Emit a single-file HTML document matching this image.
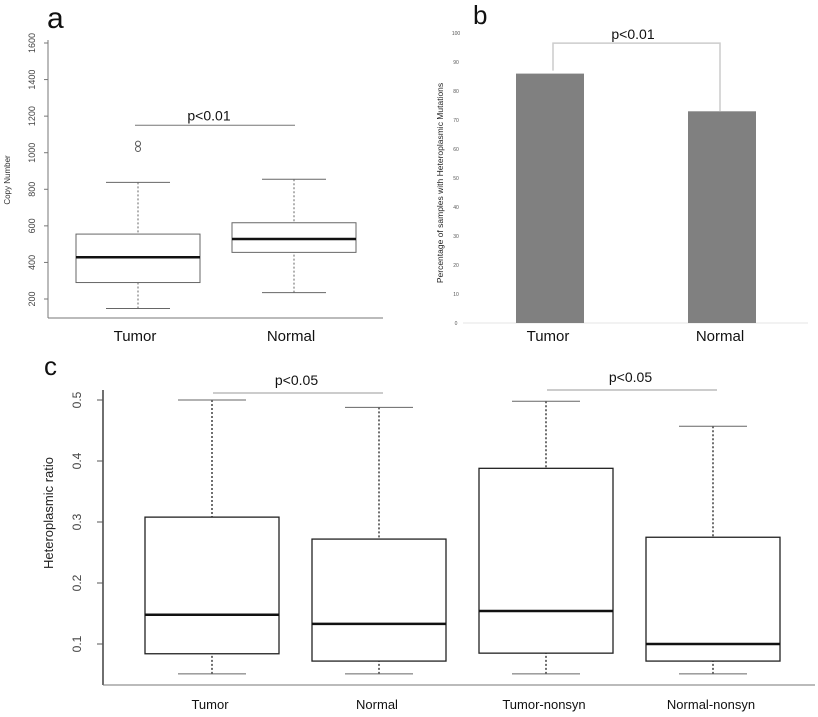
<!DOCTYPE html>
<html><head><meta charset="utf-8"><style>
body{margin:0;background:#fff}
svg{display:block;font-family:"Liberation Sans",Arial,sans-serif}
</style></head><body>
<svg width="818" height="717" viewBox="0 0 818 717" xmlns="http://www.w3.org/2000/svg">
<g id="pa"></g>
<g id="pb"></g>
<g id="pc"></g>
</svg>
<script>
// Panel a data
const aCats=["Tumor","Normal"];
const aMin=[148,235],aQ1=[290,455],aMed=[428,528],aQ3=[555,617],aMax=[838,855];
const aOutliers=[[1020,1050],[]];
const aTicks=[200,400,600,800,1000,1200,1400,1600];
// Panel b data
const bCats=["Tumor","Normal"];
const bVals=[86,73];
const bTicks=[0,10,20,30,40,50,60,70,80,90,100];
// Panel c data
const cCats=["Tumor","Normal","Tumor-nonsyn","Normal-nonsyn"];
const cMin=[0.051,0.051,0.051,0.051];
const cQ1=[0.084,0.072,0.085,0.072];
const cMed=[0.148,0.133,0.154,0.100];
const cQ3=[0.308,0.272,0.388,0.275];
const cMax=[0.500,0.488,0.498,0.457];
const cTicks=[0.1,0.2,0.3,0.4,0.5];

const NS="http://www.w3.org/2000/svg";
function mk(p,tag,at,txt){const e=document.createElementNS(NS,tag);for(const k in at)e.setAttribute(k,at[k]);if(txt!==undefined)e.textContent=txt;p.appendChild(e);return e;}

// ---- Panel a
const pa=document.getElementById('pa');
const ay=v=>299-(v-200)*(256/1400);
const ax=i=>138+i*156;
let t=mk(pa,'text',{x:47,y:28,'font-size':30,fill:'#111'},'a');


let l=mk(pa,'line',{x1:48,y1:40,x2:48,y2:318,stroke:'#777','stroke-width':1});


l=mk(pa,'line',{x1:48,y1:318,x2:383,y2:318,stroke:'#777','stroke-width':1});


aTicks.forEach(v=>{
  const y=ay(v);
  const tk=mk(pa,'line',{x1:44,y1:y,x2:48,y2:y,stroke:'#777'});
  
  
  const tl=mk(pa,'text',{x:0,y:0,'font-size':9,fill:'#444','text-anchor':'middle',transform:`translate(35,${y}) rotate(-90)`},String(v));
  
  
});
t=mk(pa,'text',{x:0,y:0,'font-size':8,fill:'#333','text-anchor':'middle',transform:'translate(10,180) rotate(-90)'},'Copy Number');


aCats.forEach((c,i)=>{
  const cx=ax(i),g=mk(pa,'g',{});
  
  
  mk(g,'line',{x1:cx,y1:ay(aMax[i]),x2:cx,y2:ay(aQ3[i]),stroke:'#666','stroke-dasharray':'2,2'});
  mk(g,'line',{x1:cx,y1:ay(aMin[i]),x2:cx,y2:ay(aQ1[i]),stroke:'#666','stroke-dasharray':'2,2'});
  mk(g,'line',{x1:cx-32,y1:ay(aMax[i]),x2:cx+32,y2:ay(aMax[i]),stroke:'#666'});
  mk(g,'line',{x1:cx-32,y1:ay(aMin[i]),x2:cx+32,y2:ay(aMin[i]),stroke:'#666'});
  mk(g,'rect',{x:cx-62,y:ay(aQ3[i]),width:124,height:ay(aQ1[i])-ay(aQ3[i]),fill:'#fff',stroke:'#666','stroke-width':1});
  mk(g,'line',{x1:cx-62,y1:ay(aMed[i]),x2:cx+62,y2:ay(aMed[i]),stroke:'#111','stroke-width':2.5});
  aOutliers[i].forEach(o=>{const c2=mk(g,'circle',{cx:cx,cy:ay(o),r:2.5,fill:'none',stroke:'#555'});
    
    });
  const lb=mk(pa,'text',{x:cx-3,y:341,'font-size':15,fill:'#111','text-anchor':'middle'},c);
  
  
});
l=mk(pa,'line',{x1:ax(0)-3,y1:ay(1150),x2:ax(1)+1,y2:ay(1150),stroke:'#777'});


t=mk(pa,'text',{x:209,y:ay(1150)-5,'font-size':14,fill:'#111','text-anchor':'middle'},'p<0.01');



// ---- Panel b
const pb=document.getElementById('pb');
const by=v=>323-v*2.9;
const bx=i=>550+i*172;
t=mk(pb,'text',{x:473,y:24,'font-size':26,fill:'#111'},'b');


l=mk(pb,'line',{x1:463,y1:323,x2:808,y2:323,stroke:'#e4e4e4'});


bTicks.forEach(v=>{
  const tl=mk(pb,'text',{x:456,y:by(v)+2,'font-size':5,fill:'#555','text-anchor':'middle'},String(v));
  
  
});
t=mk(pb,'text',{x:0,y:0,'font-size':8.5,fill:'#222','text-anchor':'middle',transform:'translate(443,183) rotate(-90)'},'Percentage of samples with Heteroplasmic Mutations');


bCats.forEach((c,i)=>{
  const r=mk(pb,'rect',{x:bx(i)-34,y:by(bVals[i]),width:68,height:323-by(bVals[i]),fill:'#808080'});
  
  
  const lb=mk(pb,'text',{x:bx(i)-2,y:341,'font-size':15,fill:'#111','text-anchor':'middle'},c);
  
  
});
const bTop=by(Math.max(bVals[0],bVals[1])+10.5);
const br=mk(pb,'path',{d:`M${bx(0)+3},${by(bVals[0])-3}V${bTop}H${bx(1)-2}V${by(bVals[1])}`,fill:'none',stroke:'#ccc','stroke-width':1.5});


t=mk(pb,'text',{x:633,y:bTop-4,'font-size':14,fill:'#111','text-anchor':'middle'},'p<0.01');



// ---- Panel c
const pc=document.getElementById('pc');
const cy=v=>644-(v-0.1)*610;
const cx=i=>212+i*167;
t=mk(pc,'text',{x:44,y:375,'font-size':26,fill:'#111'},'c');


l=mk(pc,'line',{x1:103,y1:390,x2:103,y2:685,stroke:'#222','stroke-width':1.3});


l=mk(pc,'line',{x1:103,y1:685,x2:815,y2:685,stroke:'#777','stroke-width':1});


cTicks.forEach(v=>{
  const y=cy(v);
  const tk=mk(pc,'line',{x1:97,y1:y,x2:103,y2:y,stroke:'#555'});
  
  
  const tl=mk(pc,'text',{x:0,y:0,'font-size':12,fill:'#444','text-anchor':'middle',transform:`translate(81,${y}) rotate(-90)`},v.toFixed(1));
  
  
});
t=mk(pc,'text',{x:0,y:0,'font-size':13,fill:'#222','text-anchor':'middle',transform:'translate(53,513) rotate(-90)'},'Heteroplasmic ratio');


cCats.forEach((c,i)=>{
  const x=cx(i),g=mk(pc,'g',{});
  
  
  mk(g,'line',{x1:x,y1:cy(cMax[i]),x2:x,y2:cy(cQ3[i]),stroke:'#222','stroke-dasharray':'2,2','stroke-width':1.3});
  mk(g,'line',{x1:x,y1:cy(cMin[i]),x2:x,y2:cy(cQ1[i]),stroke:'#222','stroke-dasharray':'2,2','stroke-width':1.3});
  mk(g,'line',{x1:x-34,y1:cy(cMax[i]),x2:x+34,y2:cy(cMax[i]),stroke:'#666'});
  mk(g,'line',{x1:x-34,y1:cy(cMin[i]),x2:x+34,y2:cy(cMin[i]),stroke:'#666'});
  mk(g,'rect',{x:x-67,y:cy(cQ3[i]),width:134,height:cy(cQ1[i])-cy(cQ3[i]),fill:'#fff',stroke:'#222','stroke-width':1.3});
  mk(g,'line',{x1:x-67,y1:cy(cMed[i]),x2:x+67,y2:cy(cMed[i]),stroke:'#111','stroke-width':2.5});
  const lb=mk(pc,'text',{x:x-2,y:709,'font-size':13,fill:'#111','text-anchor':'middle'},c);
  
  
});
[[0,1],[2,3]].forEach((pr,k)=>{
  const yy=k===0?393:390;
  const sl=mk(pc,'line',{x1:cx(pr[0])+1,y1:yy,x2:cx(pr[1])+4,y2:yy,stroke:'#999'});
  
  
  const pt=mk(pc,'text',{x:(cx(pr[0])+cx(pr[1]))/2+1,y:yy-8,'font-size':14,fill:'#111','text-anchor':'middle'},'p<0.05');
  
  
});
</script>
</body></html>
